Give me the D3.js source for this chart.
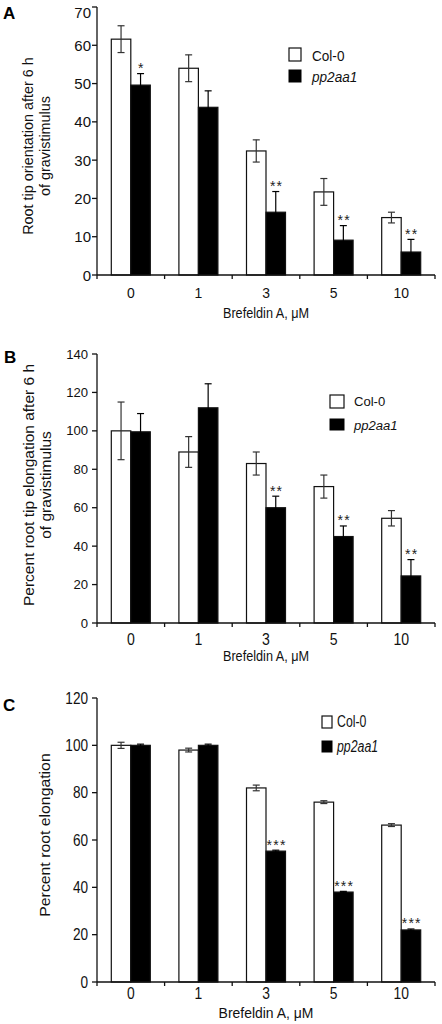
<!DOCTYPE html>
<html><head><meta charset="utf-8">
<script src="https://cdn.jsdelivr.net/npm/d3@7"></script>
<style>html,body{margin:0;padding:0;background:#fff;}svg{display:block;}</style>
</head><body>
<script>
// ---------- DATA ----------
const categories = ["0", "1", "3", "5", "10"];
const seriesNames = ["Col-0", "pp2aa1"];
const xTitle = "Brefeldin A, \u03BCM";

// Panel A
const colA = [61.6, 54.0, 32.4, 21.7, 15.0];
const colAErr = [3.5, 3.5, 2.9, 3.5, 1.4];
const ppA = [49.6, 43.8, 16.4, 9.1, 6.0];
const ppAErr = [3.0, 4.3, 5.4, 3.8, 3.3];
const sigA = ["*", "", "**", "**", "**"];
const yTicksA = [0, 10, 20, 30, 40, 50, 60, 70];
const yLabelA = ["Root tip orientation after 6 h", "of gravistimulus"];

// Panel B
const colB = [100, 89, 83, 71, 54.5];
const colBErr = [15, 8, 6, 6, 4];
const ppB = [99.5, 112, 60, 45, 24.5];
const ppBErr = [9.5, 12.5, 6, 5.5, 8.5];
const sigB = ["", "", "**", "**", "**"];
const yTicksB = [0, 20, 40, 60, 80, 100, 120, 140];
const yLabelB = ["Percent root tip elongation after 6 h", "of gravistimulus"];

// Panel C
const colC = [100, 98, 82, 76, 66.3];
const colCErr = [1.3, 0.8, 1.2, 0.6, 0.6];
const ppC = [100, 100, 55.3, 38, 22];
const ppCErr = [0.5, 0.5, 0.4, 0.3, 0.4];
const sigC = ["", "", "***", "***", "***"];
const yTicksC = [0, 20, 40, 60, 80, 100, 120];
const yLabelC = ["Percent root elongation"];

// ---------- LAYOUT ----------
const W = 442, H = 1024;
const svg = d3.select("body").append("svg").attr("width", W).attr("height", H);
const FONT = "'Liberation Sans', Arial, Helvetica, sans-serif";

function txt(g, x, y, s, o) {
  o = o || {};
  const sx = o.sx || 1;
  let tr = `translate(${x},${y})`;
  if (o.rot) tr += ` rotate(${o.rot})`;
  tr += ` scale(${sx},1)`;
  return g.append("text").attr("transform", tr)
    .attr("font-family", FONT).attr("font-size", o.size || 14)
    .attr("font-weight", o.bold ? "bold" : "normal")
    .attr("font-style", o.italic ? "italic" : "normal")
    .attr("text-anchor", o.anchor || "middle")
    .attr("letter-spacing", o.ls || 0)
    .attr("fill", o.fill || "#111").text(s);
}

const panels = [
  { letter: "A", lx: 3, ly: 19, col: colA, colErr: colAErr, pp: ppA, ppErr: ppAErr, sig: sigA,
    ticks: yTicksA, top: 7, bottom: 275, tickSize: 15.5, tickSx: 0.97, tickEnd: 91,
    xlabY: 298, xlabSize: 15, xlabSx: 0.93, titleY: 318, titleSize: 14.4, titleSx: 0.88,
    ylab: yLabelA, ylabX: [33, 50], ylabY: 146, ylabSize: 14.4, ylabSx: 1.0,
    leg: { sx: 289, sw: 12, y1: 48, h1: 13, y2: 70, h2: 12, tx: 312, t1: 60.5, t2: 82, size: 14, tsx: 0.97 } },
  { letter: "B", lx: 4, ly: 363, col: colB, colErr: colBErr, pp: ppB, ppErr: ppBErr, sig: sigB,
    ticks: yTicksB, top: 354, bottom: 623, tickSize: 12.5, tickSx: 1.05, tickEnd: 88,
    xlabY: 645, xlabSize: 16, xlabSx: 0.88, titleY: 661, titleSize: 14.4, titleSx: 0.88,
    ylab: yLabelB, ylabX: [34, 51], ylabY: 485, ylabSize: 14.5, ylabSx: 1.07,
    leg: { sx: 330, sw: 14, y1: 395, h1: 13, y2: 419, h2: 11, tx: 354, t1: 406, t2: 429.5, size: 13.5, tsx: 0.97 } },
  { letter: "C", lx: 3, ly: 711, col: colC, colErr: colCErr, pp: ppC, ppErr: ppCErr, sig: sigC,
    ticks: yTicksC, top: 698, bottom: 982, tickSize: 16, tickSx: 0.85, tickEnd: 88,
    xlabY: 999, xlabSize: 16.5, xlabSx: 0.84, titleY: 1018, titleSize: 15.5, titleSx: 0.9,
    ylab: yLabelC, ylabX: [50], ylabY: 835, ylabSize: 14, ylabSx: 1.13,
    leg: { sx: 322, sw: 10, y1: 716, h1: 12, y2: 741, h2: 11, tx: 337, t1: 727, t2: 752, size: 16, tsx: 0.77 } }
];

const x0 = 97, x1 = 435;
const x = d3.scaleBand().domain(categories).range([x0, x1]).paddingInner(0).paddingOuter(0);
const barW = 19.5;

panels.forEach(p => {
  const g = svg.append("g");
  const y = d3.scaleLinear().domain([0, p.ticks[p.ticks.length - 1]]).range([p.bottom, p.top]);

  // bars
  categories.forEach((c, i) => {
    const cx = x(c) + x.bandwidth() / 2;
    const bars = [
      { v: p.col[i], e: p.colErr[i], x: cx - barW, fill: "#fff", ec: "#333" },
      { v: p.pp[i], e: p.ppErr[i], x: cx, fill: "#000", ec: "#000" }
    ];
    bars.forEach(b => {
      g.append("rect").attr("x", b.x).attr("y", y(b.v)).attr("width", barW)
        .attr("height", y(0) - y(b.v)).attr("fill", b.fill)
        .attr("stroke", "#111").attr("stroke-width", 1.2);
    });
    bars.forEach(b => {
      const ex = b.x + barW / 2;
      const eg = g.append("g").attr("stroke", b.ec).attr("stroke-width", 1.2);
      eg.append("line").attr("x1", ex).attr("x2", ex).attr("y1", y(b.v + b.e)).attr("y2", y(b.v - b.e));
      eg.append("line").attr("x1", ex - 3.5).attr("x2", ex + 3.5).attr("y1", y(b.v + b.e)).attr("y2", y(b.v + b.e));
      eg.append("line").attr("x1", ex - 3.5).attr("x2", ex + 3.5).attr("y1", y(b.v - b.e)).attr("y2", y(b.v - b.e));
    });
    if (p.sig[i]) {
      txt(g, cx + barW / 2 + 0.8, y(p.pp[i] + p.ppErr[i]) - 0.5, p.sig[i], { size: 14, ls: 1.2, fill: "#222" });
    }
  });

  // axes
  const ya = g.append("g").attr("stroke", "#111").attr("stroke-width", 1.3);
  ya.append("line").attr("x1", x0).attr("x2", x0).attr("y1", y(p.ticks[p.ticks.length - 1])).attr("y2", y(0) + 4);
  p.ticks.forEach(t => {
    ya.append("line").attr("x1", x0 - 5).attr("x2", x0).attr("y1", y(t)).attr("y2", y(t));
    const ty = Math.max(y(t) + p.tickSize * 0.36, p.tickSize + 2);
    txt(g, p.tickEnd, ty, String(t), { size: p.tickSize, sx: p.tickSx, anchor: "end" });
  });
  ya.append("line").attr("x1", x0).attr("x2", x1).attr("y1", y(0)).attr("y2", y(0));
  categories.forEach((c, i) => {
    ya.append("line").attr("x1", x(c) + x.bandwidth()).attr("x2", x(c) + x.bandwidth())
      .attr("y1", y(0)).attr("y2", y(0) + 4);
    txt(g, x(c) + x.bandwidth() / 2, p.xlabY, c, { size: p.xlabSize, sx: p.xlabSx });
  });
  txt(g, 266, p.titleY, xTitle, { size: p.titleSize, sx: p.titleSx });

  // y label
  p.ylab.forEach((s, k) => {
    txt(g, p.ylabX[k], p.ylabY, s, { size: p.ylabSize, sx: p.ylabSx, rot: -90 });
  });

  // panel letter
  txt(g, p.lx, p.ly, p.letter, { size: 17, bold: true, anchor: "start", fill: "#000" });

  // legend
  const L = p.leg;
  g.append("rect").attr("x", L.sx).attr("y", L.y1).attr("width", L.sw).attr("height", L.h1)
    .attr("fill", "#fff").attr("stroke", "#111").attr("stroke-width", 1.2);
  g.append("rect").attr("x", L.sx).attr("y", L.y2).attr("width", L.sw).attr("height", L.h2)
    .attr("fill", "#000").attr("stroke", "#000").attr("stroke-width", 1);
  txt(g, L.tx, L.t1, seriesNames[0], { size: L.size, sx: L.tsx, anchor: "start" });
  txt(g, L.tx, L.t2, seriesNames[1], { size: L.size, sx: L.tsx, anchor: "start", italic: true });
});
</script>
</body></html>
